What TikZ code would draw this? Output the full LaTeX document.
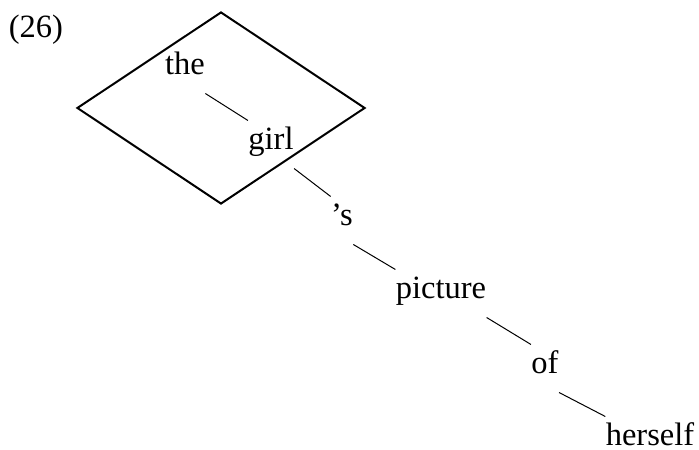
\documentclass[tikz,border=0pt]{standalone}
\usepackage{fontspec}
\setmainfont{Liberation Serif}
\usepackage{tikz}
\usetikzlibrary{shapes.geometric}

\begin{document}
\begin{tikzpicture}[x=0.4pt,y=-0.4pt,every node/.style={font=\fontsize{13}{15}\selectfont},
  word/.style={inner sep=0pt,text height=11.6pt,text depth=7.2pt,anchor=base},
  dep/.style={line width=0.4pt}]
\useasboundingbox (0,0) rectangle (699,450);
\node[anchor=base,inner sep=0pt] (num) at (36,38) {(26)};
% the NP box
\node[draw,diamond,line width=0.8pt,inner sep=0pt,minimum width=115.2pt,minimum height=76.8pt] (np) at (221,108) {};
\node[word] (the) at (185,75) {the};
\node[word] (girl) at (271,150) {girl};
\node[word] (poss) at (342,226) {’s};
\node[word] (picture) at (441,299) {picture};
\node[word] (of) at (545,374) {of};
\node[word,text depth=0pt] (herself) at (650,446) {herself};
\draw[dep] (the.south east)--(girl.north west);
\draw[dep] (girl.south east)--(poss.north west);
\draw[dep] (poss.south east)--(picture.north west);
\draw[dep] (picture.south east)--(of.north west);
\draw[dep] (of.south east)--(herself.north west);
\end{tikzpicture}
\end{document}
